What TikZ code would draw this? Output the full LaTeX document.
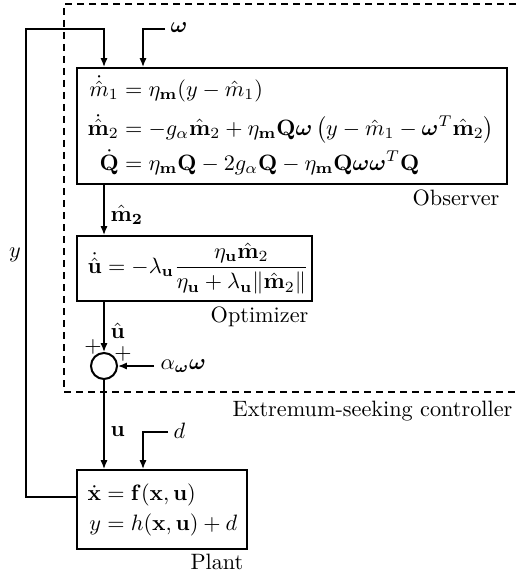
\documentclass[tikz,border=0pt]{standalone}
\usepackage{amsmath,amssymb,bm}
\usetikzlibrary{arrows.meta,calc}
\begin{document}
\begin{tikzpicture}[x=0.45pt,y=-0.45pt,
  blockbox/.style={draw,line width=0.9pt,inner sep=0pt},
  conn/.style={line width=0.6pt},
  arr/.style={conn,-{Latex[length=4pt,width=3.2pt]}},
  lbl/.style={inner sep=1pt},
  ctrlbox/.style={dashed,line width=0.9pt,dash pattern=on 3pt off 2.4pt}]
\useasboundingbox (0,0) rectangle (517,580);
% controller boundary
\draw[ctrlbox] (540,4) -- (64,4) -- (64,392) -- (540,392);
\node[lbl,anchor=north east] (esclbl) at (515,398) {Extremum-seeking controller};
% blocks
\node[blockbox,minimum width=430*0.45pt,minimum height=116*0.45pt] (obs) at (292,126) {};
\node[lbl,anchor=west] (obstext) at (85,127) {$\begin{aligned}
\dot{\hat{m}}_1 &= \eta_{\mathbf m}(y-\hat m_1)\\[0.5pt]
\dot{\hat{\mathbf m}}_2 &= -g_\alpha\hat{\mathbf m}_2+\eta_{\mathbf m}\mathbf Q\bm\omega\,\big(y-\hat m_1-\bm\omega^T\hat{\mathbf m}_2\big)\\[-1pt]
\dot{\mathbf Q} &= \eta_{\mathbf m}\mathbf Q-2g_\alpha\mathbf Q-\eta_{\mathbf m}\mathbf Q\bm\omega\bm\omega^T\mathbf Q
\end{aligned}$};
\node[lbl,anchor=north east] (obslbl) at (502,187) {Observer};
\node[blockbox,minimum width=235*0.45pt,minimum height=65*0.45pt] (opt) at (194.5,268.5) {};
\node[lbl,anchor=west] (opttext) at (85,268.5) {$\dot{\hat{\mathbf u}} = -\lambda_{\mathbf u}\dfrac{\eta_{\mathbf u}\hat{\mathbf m}_2}{\eta_{\mathbf u}+\lambda_{\mathbf u}\|\hat{\mathbf m}_2\|}$};
\node[lbl,anchor=north east] (optlbl) at (311,304) {Optimizer};
\node[draw,circle,line width=0.9pt,minimum size=26*0.45pt,inner sep=0pt] (sum) at (104,366) {};
\node[lbl] (plus1) at (93,347) {$+$};
\node[lbl] (plus2) at (123,354) {$+$};
\node[blockbox,minimum width=170*0.45pt,minimum height=79*0.45pt] (plant) at (162,509.5) {};
\node[lbl,anchor=west] (planttext) at (85,510) {$\begin{aligned}
\dot{\mathbf x} &= \mathbf f(\mathbf x,\mathbf u)\\[-1.5pt]
y &= h(\mathbf x,\mathbf u)+d
\end{aligned}$};
\node[lbl,anchor=north east] (plantlbl) at (246,551) {Plant};
% coordinates
\coordinate (c1) at (104,0);
\coordinate (c2) at (143,0);
\coordinate (win) at (165,29);
\coordinate (ain) at (154,366);
\coordinate (din) at (168,432);
\coordinate (fb1) at (26,497);
\coordinate (fb2) at (26,29);
% connectors
\draw[arr] (plant.west |- fb1) -- (fb1) -- (fb2) -| (c1 |- obs.north);
\draw[arr] (win) -| (c2 |- obs.north);
\draw[arr] (c1 |- obs.south) -- (c1 |- opt.north);
\draw[arr] (c1 |- opt.south) -- (sum.north);
\draw[arr] (ain) -- (sum.east);
\draw[arr] (sum.south) -- (c1 |- plant.north);
\draw[arr] (din) -| (c2 |- plant.north);
% labels
\node[lbl,anchor=west] (wlbl) at (168,28) {$\bm\omega$};
\node[lbl,anchor=west] (m2lbl) at (108,215) {$\hat{\mathbf m}_{\mathbf 2}$};
\node[lbl,anchor=west] (uhatlbl) at (108,331) {$\hat{\mathbf u}$};
\node[lbl,anchor=west] (albl) at (158,366) {$\alpha_{\bm\omega}\bm\omega$};
\node[lbl,anchor=west] (ulbl) at (108,432) {$\mathbf u$};
\node[lbl,anchor=west] (dlbl) at (171,431) {$d$};
\node[lbl] (ylbl) at (15,255) {$y$};
\end{tikzpicture}
\end{document}
